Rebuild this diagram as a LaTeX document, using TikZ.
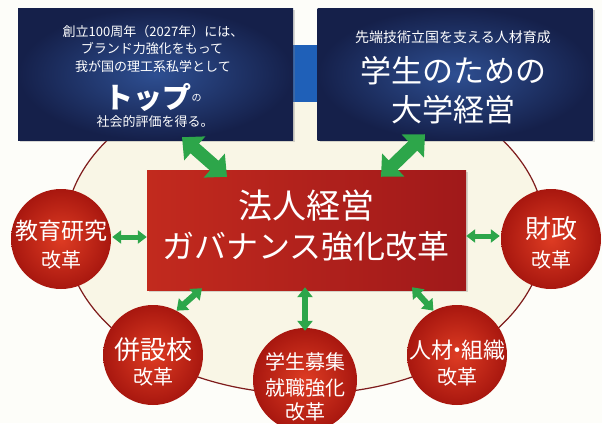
\documentclass[tikz,border=0pt]{standalone}
\usepackage{fontspec}
\setmainfont{Noto Sans CJK JP}
\usetikzlibrary{arrows.meta,calc,shadows}
\definecolor{bg}{HTML}{FDFDF9}
\definecolor{cream}{HTML}{F9F6E6}
\definecolor{navyout}{HTML}{15204A}
\definecolor{navyin}{HTML}{2E4F92}
\definecolor{barblue}{HTML}{1F60B8}
\definecolor{redA}{HTML}{C22A1E}
\definecolor{redB}{HTML}{E0452B}
\definecolor{redC}{HTML}{A0191A}
\definecolor{ballin}{HTML}{DE3C23}
\definecolor{ballout}{HTML}{A8170F}
\definecolor{ring}{HTML}{7E1B1B}
\definecolor{agreen}{HTML}{2DA64A}
\newcommand{\fs}[1]{\fontsize{#1}{#1}\selectfont}
\begin{document}
\begin{tikzpicture}[x=1pt,y=-1pt,
  bluebox/.style={rectangle, minimum width=275pt, minimum height=132pt,
    inner color=navyin, outer color=navyout,
    drop shadow={opacity=.3, shadow xshift=2pt, shadow yshift=-2pt}},
  redbox/.style={rectangle, minimum width=319pt, minimum height=120pt,
    left color=redA, middle color=redB, right color=redC,
    drop shadow={opacity=.3, shadow xshift=2pt, shadow yshift=-2pt}},
  ball/.style={circle, minimum size=#1, inner sep=0pt,
    inner color=ballin, outer color=ballout},
  wt/.style={text=white, inner sep=0pt},
  bigarrow/.style={agreen, line width=13pt,
    {Triangle[width=31pt,length=17pt]}-{Triangle[width=31pt,length=17pt]}},
  midarrow/.style={agreen, line width=6pt,
    {Triangle[width=15pt,length=10pt]}-{Triangle[width=15pt,length=10pt]}},
  smallarrow/.style={agreen, line width=5pt,
    {Triangle[width=13pt,length=9pt]}-{Triangle[width=13pt,length=9pt]}},
]
\fill[bg] (0,0) rectangle (602,423);
\useasboundingbox (0,0) rectangle (602,423);
\begin{scope}
\clip (0,0) rectangle (602,423);
\draw[ring, fill=cream, line width=1.2pt] (305,232) ellipse [x radius=240, y radius=162];

% blue connecting bar
\fill[barblue] (285,45) rectangle (325,102);

% top boxes
\node[bluebox] (lb) at (155.5,74) {};
\node[bluebox] (rb) at (455,74) {};

\node[wt, font=\fs{13}] (l1) at (153,32) {創立100周年（2027年）には、};
\node[wt, font=\fs{13}] (l2) at (152,49) {ブランド力強化をもって};
\node[wt, font=\fs{13}] (l3) at (153,67) {我が国の理工系私学として};
\node[wt] (l4) at (153,97) {\fs{29}\bfseries トップ\raisebox{7pt}{\fs{10}\mdseries の}};
\node[wt, font=\fs{13}] (l5) at (155,122) {社会的評価を得る。};

\node[wt, font=\fs{14}] (r1) at (453,37) {先端技術立国を支える人材育成};
\node[wt, font=\fs{31}] (r2) at (453,71) {学生のための};
\node[wt, font=\fs{31}] (r3) at (453,110) {大学経営};

% central red box
\node[redbox] (cb) at (306.5,230) {};
\node[wt, font=\fs{34}] (c1) at (306,206) {法人経営};
\node[wt, font=\fs{32}] (c2) at (306,246) {ガバナンス強化改革};

% circles
\node[ball=100pt] (edu) at (61,239) {};
\node[wt, font=\fs{23}] at (61,231) (edu1) {教育研究};
\node[wt, font=\fs{20}] at (61,260) (edu2) {改革};

\node[ball=100pt] (fin) at (551,239) {};
\node[wt, font=\fs{26}] at (551,229) (fin1) {財政};
\node[wt, font=\fs{20}] at (551,260) (fin2) {改革};

\node[ball=100pt] (hei) at (153,355) {};
\node[wt, font=\fs{26}] at (153,350) (hei1) {併設校};
\node[wt, font=\fs{20}] at (153,377) (hei2) {改革};

\node[ball=104pt] (gak) at (305,380) {};
\node[wt, font=\fs{20}] at (305,362) (gak1) {学生募集};
\node[wt, font=\fs{20}] at (305,388) (gak2) {就職強化};
\node[wt, font=\fs{20}] at (305,412) (gak3) {改革};

\node[ball=100pt] (jin) at (457,355) {};
\node[wt, font=\fs{22}] at (457,350) (jin1) {人材\kern-7pt・\kern-7pt組織};
\node[wt, font=\fs{20}] at (457,377) (jin2) {改革};

% arrows
\draw[bigarrow] ($(lb.south)+(26.5,-3)$) -- ($(cb.north)+(-79.5,7)$);
\draw[bigarrow] ($(rb.south)+(-30,-6)$) -- ($(cb.north)+(74.5,7)$);
\draw[smallarrow] ($(edu.east)+(1,-2)$) -- ($(cb.west)+(0,7)$);
\draw[smallarrow] ($(cb.east)+(0,6)$) -- ($(fin.west)+(-1,-3)$);
\draw[midarrow] ($(cb.south)+(-104.5,-2)$) -- (hei.62);
\draw[midarrow] ($(cb.south)+(-1.5,-3)$) -- ($(gak.north)+(0,3)$);
\draw[midarrow] ($(cb.south)+(105.5,-3)$) -- (jin.118);
\end{scope}
\end{tikzpicture}
\end{document}
